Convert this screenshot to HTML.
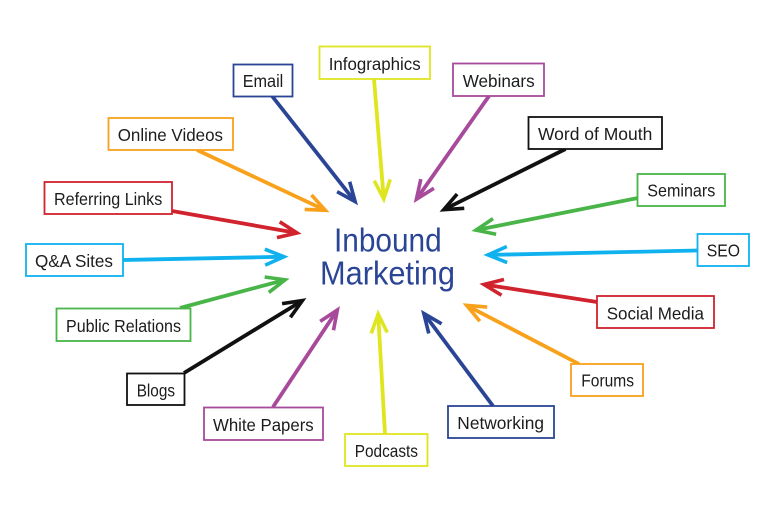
<!DOCTYPE html>
<html><head><meta charset="utf-8"><style>
html,body{margin:0;padding:0;background:#fff}
svg{display:block;filter:blur(.35px)}
text{font-family:"Liberation Sans",sans-serif;font-size:17.5px;fill:#1c1c1c}
.c{font-size:33px;fill:#2b4596}
rect{fill:#fff;stroke-width:1.8}
line{stroke-width:3.8;fill:none}
marker path{fill:none;stroke-width:3.6;stroke-miterlimit:10}
</style></head><body>
<svg width="768" height="527" viewBox="0 0 768 527" xmlns="http://www.w3.org/2000/svg">
<defs>
<marker id="mb" markerUnits="userSpaceOnUse" markerWidth="44" markerHeight="34" refX="30" refY="17" orient="auto"><path d="M8,9 L27,17 L8,25" stroke="#2b4596"/></marker>
<marker id="my" markerUnits="userSpaceOnUse" markerWidth="44" markerHeight="34" refX="30" refY="17" orient="auto"><path d="M8,9 L27,17 L8,25" stroke="#dfe51f"/></marker>
<marker id="mo" markerUnits="userSpaceOnUse" markerWidth="44" markerHeight="34" refX="30" refY="17" orient="auto"><path d="M8,9 L27,17 L8,25" stroke="#f9a11b"/></marker>
<marker id="mr" markerUnits="userSpaceOnUse" markerWidth="44" markerHeight="34" refX="30" refY="17" orient="auto"><path d="M8,9 L27,17 L8,25" stroke="#d0232e"/></marker>
<marker id="mc" markerUnits="userSpaceOnUse" markerWidth="44" markerHeight="34" refX="30" refY="17" orient="auto"><path d="M8,9 L27,17 L8,25" stroke="#0fb2ee"/></marker>
<marker id="mg" markerUnits="userSpaceOnUse" markerWidth="44" markerHeight="34" refX="30" refY="17" orient="auto"><path d="M8,9 L27,17 L8,25" stroke="#49b548"/></marker>
<marker id="mk" markerUnits="userSpaceOnUse" markerWidth="44" markerHeight="34" refX="30" refY="17" orient="auto"><path d="M8,9 L27,17 L8,25" stroke="#111111"/></marker>
<marker id="mp" markerUnits="userSpaceOnUse" markerWidth="44" markerHeight="34" refX="30" refY="17" orient="auto"><path d="M8,9 L27,17 L8,25" stroke="#a84a9b"/></marker>
</defs>

<!-- connectors -->
<line x1="272" y1="96" x2="357" y2="204" stroke="#2b4596" marker-end="url(#mb)" pathLength="100" stroke-dasharray="96 4"/>
<line x1="374" y1="79" x2="384" y2="202" stroke="#dfe51f" marker-end="url(#my)" pathLength="100" stroke-dasharray="96 4"/>
<line x1="197" y1="150" x2="328" y2="211.5" stroke="#f9a11b" marker-end="url(#mo)" pathLength="100" stroke-dasharray="96 4"/>
<line x1="172" y1="211" x2="300" y2="233.5" stroke="#d0232e" marker-end="url(#mr)" pathLength="100" stroke-dasharray="96 4"/>
<line x1="123" y1="260" x2="287" y2="256.7" stroke="#0fb2ee" marker-end="url(#mc)" pathLength="100" stroke-dasharray="96 4"/>
<line x1="180" y1="308" x2="288" y2="279" stroke="#49b548" marker-end="url(#mg)" pathLength="100" stroke-dasharray="96 4"/>
<line x1="184" y1="373" x2="305" y2="299" stroke="#111111" marker-end="url(#mk)" pathLength="100" stroke-dasharray="96 4"/>
<line x1="273" y1="407" x2="339" y2="307.5" stroke="#a84a9b" marker-end="url(#mp)" pathLength="100" stroke-dasharray="96 4"/>
<line x1="385" y1="434" x2="378" y2="311" stroke="#dfe51f" marker-end="url(#my)" pathLength="100" stroke-dasharray="96 4"/>
<line x1="493" y1="406" x2="422" y2="311" stroke="#2b4596" marker-end="url(#mb)" pathLength="100" stroke-dasharray="96 4"/>
<line x1="579" y1="364" x2="464" y2="304" stroke="#f9a11b" marker-end="url(#mo)" pathLength="100" stroke-dasharray="96 4"/>
<line x1="597" y1="302" x2="481" y2="284" stroke="#d0232e" marker-end="url(#mr)" pathLength="100" stroke-dasharray="96 4"/>
<line x1="697" y1="250.5" x2="485" y2="255" stroke="#0fb2ee" marker-end="url(#mc)" pathLength="100" stroke-dasharray="97 3"/>
<line x1="638" y1="198" x2="473" y2="230.7" stroke="#49b548" marker-end="url(#mg)" pathLength="100" stroke-dasharray="96 4"/>
<line x1="565.5" y1="149" x2="441" y2="211" stroke="#111111" marker-end="url(#mk)" pathLength="100" stroke-dasharray="96 4"/>
<line x1="489" y1="96" x2="414.7" y2="201.7" stroke="#a84a9b" marker-end="url(#mp)" pathLength="100" stroke-dasharray="96 4"/>

<!-- boxes -->
<rect x="233.5" y="64.5" width="59" height="32" stroke="#2b4596"/>
<rect x="319.5" y="46.5" width="110.5" height="32.5" stroke="#dfe51f"/>
<rect x="108.5" y="118" width="124.5" height="32" stroke="#f9a11b"/>
<rect x="44.5" y="182" width="127.5" height="32" stroke="#d0232e"/>
<rect x="26" y="244" width="97" height="32" stroke="#0fb2ee"/>
<rect x="56.5" y="308.5" width="134" height="32.5" stroke="#49b548"/>
<rect x="127" y="373.5" width="57.5" height="31.5" stroke="#111111"/>
<rect x="204" y="407.5" width="119" height="32.5" stroke="#a84a9b"/>
<rect x="345" y="434" width="82.5" height="32" stroke="#dfe51f"/>
<rect x="448" y="406" width="106" height="32" stroke="#2b4596"/>
<rect x="571" y="364" width="72" height="32" stroke="#f9a11b"/>
<rect x="597" y="296" width="117" height="32" stroke="#d0232e"/>
<rect x="697.5" y="234" width="51.5" height="32" stroke="#0fb2ee"/>
<rect x="637.5" y="174" width="87.5" height="32" stroke="#49b548"/>
<rect x="528.5" y="117" width="133.5" height="32" stroke="#111111"/>
<rect x="453" y="63.5" width="91" height="32.5" stroke="#a84a9b"/>

<!-- labels -->
<text x="242.7" y="87" textLength="40.6" lengthAdjust="spacingAndGlyphs">Email</text>
<text x="328.7" y="70" textLength="92" lengthAdjust="spacingAndGlyphs">Infographics</text>
<text x="117.7" y="141" textLength="105.3" lengthAdjust="spacingAndGlyphs">Online Videos</text>
<text x="54" y="205" textLength="108.3" lengthAdjust="spacingAndGlyphs">Referring Links</text>
<text x="35" y="267" textLength="78" lengthAdjust="spacingAndGlyphs">Q&amp;A Sites</text>
<text x="66" y="332" textLength="115" lengthAdjust="spacingAndGlyphs">Public Relations</text>
<text x="136.7" y="396.7" textLength="38.3" lengthAdjust="spacingAndGlyphs">Blogs</text>
<text x="213" y="431" textLength="100.7" lengthAdjust="spacingAndGlyphs">White Papers</text>
<text x="354.7" y="457" textLength="63.3" lengthAdjust="spacingAndGlyphs">Podcasts</text>
<text x="457.3" y="429" textLength="86.7" lengthAdjust="spacingAndGlyphs">Networking</text>
<text x="581.3" y="386.7" textLength="52.7" lengthAdjust="spacingAndGlyphs">Forums</text>
<text x="606.7" y="319.3" textLength="97.3" lengthAdjust="spacingAndGlyphs">Social Media</text>
<text x="706.7" y="256.7" textLength="33.3" lengthAdjust="spacingAndGlyphs">SEO</text>
<text x="647.3" y="196.7" textLength="68" lengthAdjust="spacingAndGlyphs">Seminars</text>
<text x="538" y="140" textLength="114.3" lengthAdjust="spacingAndGlyphs">Word of Mouth</text>
<text x="462.7" y="87" textLength="72" lengthAdjust="spacingAndGlyphs">Webinars</text>

<text class="c" x="334" y="251.7" textLength="107.7" lengthAdjust="spacingAndGlyphs">Inbound</text>
<text class="c" x="320" y="284.3" textLength="135" lengthAdjust="spacingAndGlyphs">Marketing</text>
</svg>
</body></html>
